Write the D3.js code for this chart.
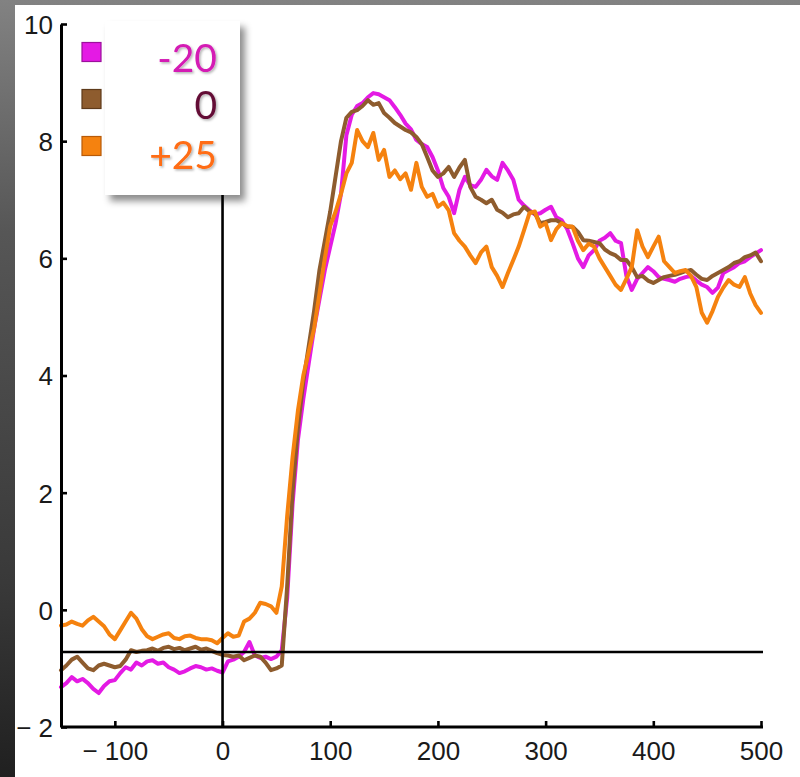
<!DOCTYPE html>
<html>
<head>
<meta charset="utf-8">
<script src="https://cdn.jsdelivr.net/npm/d3@7"></script>
<style>
  body { margin: 0; padding: 0; background: #000; }
  svg { display: block; }
</style>
</head>
<body>
<script>
// time grid (ms), one sample every 5
let times = d3.range(-150, 501, 5);

let minus20 = [
  -1.32, -1.25, -1.15, -1.22, -1.18, -1.25, -1.35, -1.42, -1.30, -1.22,
  -1.20, -1.08, -0.98, -1.02, -0.90, -0.95, -0.88, -0.86, -0.92, -0.90,
  -0.98, -1.02, -1.08, -1.05, -1.00, -0.96, -0.98, -1.02, -1.00, -1.04,
  -1.07, -0.88, -0.85, -0.80, -0.72, -0.55, -0.78, -0.82, -0.80, -0.84,
  -0.80, -0.69, 0.20, 1.80, 2.90, 3.60, 4.20, 4.80, 5.30, 5.80,
  6.20, 6.60, 7.10, 8.10, 8.45, 8.60, 8.65, 8.75, 8.82, 8.80,
  8.75, 8.70, 8.58, 8.45, 8.30, 8.20, 8.02, 7.95, 7.90, 7.73,
  7.50, 7.20, 7.05, 6.77, 7.17, 7.39, 7.25, 7.22, 7.34, 7.51,
  7.40, 7.34, 7.63, 7.50, 7.34, 7.00, 6.90, 6.82, 6.75, 6.77,
  6.83, 6.88, 6.70, 6.65, 6.50, 6.26, 6.00, 5.85, 6.05, 6.14,
  6.30, 6.35, 6.43, 6.30, 6.26, 5.70, 5.46, 5.65, 5.75, 5.85,
  5.78, 5.68, 5.65, 5.63, 5.60, 5.65, 5.68, 5.70, 5.62, 5.55,
  5.51, 5.41, 5.50, 5.75, 5.80, 5.85, 5.92, 5.95, 6.02, 6.08,
  6.14
];

let zero = [
  -1.03, -0.95, -0.85, -0.80, -0.90, -1.00, -1.03, -0.95, -0.92, -0.95,
  -0.98, -0.96, -0.85, -0.69, -0.72, -0.70, -0.69, -0.66, -0.70, -0.65,
  -0.63, -0.67, -0.65, -0.69, -0.66, -0.63, -0.68, -0.66, -0.70, -0.74,
  -0.77, -0.78, -0.80, -0.78, -0.86, -0.82, -0.78, -0.80, -0.90, -1.03,
  -1.00, -0.95, 0.40, 2.00, 3.10, 3.90, 4.50, 5.10, 5.80, 6.30,
  6.80, 7.40, 8.00, 8.40, 8.50, 8.53, 8.60, 8.70, 8.62, 8.65,
  8.48, 8.40, 8.31, 8.25, 8.19, 8.15, 8.07, 7.95, 7.73, 7.50,
  7.39, 7.45, 7.56, 7.39, 7.55, 7.68, 7.22, 7.05, 7.00, 6.94,
  7.00, 6.83, 6.78, 6.70, 6.75, 6.77, 6.88, 6.80, 6.77, 6.60,
  6.62, 6.65, 6.65, 6.60, 6.54, 6.54, 6.45, 6.31, 6.30, 6.28,
  6.26, 6.15, 6.09, 6.05, 5.97, 5.97, 5.85, 5.68, 5.70, 5.62,
  5.58, 5.63, 5.68, 5.70, 5.72, 5.75, 5.78, 5.80, 5.72, 5.65,
  5.63, 5.70, 5.75, 5.80, 5.85, 5.92, 5.95, 6.02, 6.05, 6.10,
  5.95
];

let plus25 = [
  -0.27, -0.25, -0.20, -0.24, -0.27, -0.18, -0.12, -0.20, -0.28, -0.42,
  -0.50, -0.35, -0.20, -0.05, -0.15, -0.33, -0.45, -0.50, -0.46, -0.42,
  -0.40, -0.48, -0.50, -0.45, -0.44, -0.48, -0.50, -0.50, -0.52, -0.57,
  -0.48, -0.40, -0.46, -0.44, -0.20, -0.15, -0.05, 0.12, 0.10, 0.06,
  -0.05, 0.40, 1.60, 2.60, 3.40, 4.00, 4.40, 4.80, 5.40, 6.00,
  6.55, 6.80, 7.10, 7.45, 7.63, 8.19, 8.00, 7.90, 8.14, 7.68,
  7.85, 7.39, 7.50, 7.35, 7.45, 7.17, 7.63, 7.22, 7.05, 7.10,
  6.88, 6.95, 6.82, 6.43, 6.30, 6.20, 6.05, 5.92, 6.10, 6.20,
  5.85, 5.70, 5.51, 5.75, 5.97, 6.20, 6.48, 6.77, 6.80, 6.54,
  6.60, 6.31, 6.50, 6.60, 6.55, 6.54, 6.30, 6.14, 6.25, 6.20,
  6.00, 5.85, 5.70, 5.55, 5.46, 5.65, 5.85, 6.48, 6.20, 6.02,
  6.20, 6.37, 5.95, 5.85, 5.75, 5.78, 5.80, 5.70, 5.51, 5.07,
  4.90, 5.10, 5.34, 5.50, 5.63, 5.55, 5.51, 5.68, 5.40, 5.20,
  5.07
];

let seriesNames = ["-20", "0", "+25"];
let seriesValues = [minus20, zero, plus25];
let xTicks = [-100, 0, 100, 200, 300, 400, 500];
let yTicks = [-2, 0, 2, 4, 6, 8, 10];
let baselineLevel = -0.72;

let lineColors = ["#e41ae4", "#8e5c2e", "#f5820f"];
let boxStrokes = ["#9c109c", "#5e3a1a", "#b85a08"];
let textColors = ["#d41ab4", "#640a36", "#ff6c12"];

let width = 800;
let height = 777;

let svg = d3.select("body").append("svg")
            .attr("width", width)
            .attr("height", height);

let defs = svg.append("defs");

let bg = defs.append("linearGradient").attr("id", "bg")
             .attr("x1", 0).attr("y1", 0).attr("x2", 0).attr("y2", 1);
bg.append("stop").attr("offset", "0%").attr("stop-color", "#828282");
bg.append("stop").attr("offset", "30%").attr("stop-color", "#565656");
bg.append("stop").attr("offset", "75%").attr("stop-color", "#393939");
bg.append("stop").attr("offset", "100%").attr("stop-color", "#202020");

let shadow = defs.append("filter").attr("id", "shadow")
                 .attr("x", "-20%").attr("y", "-20%")
                 .attr("width", "150%").attr("height", "150%");
shadow.append("feDropShadow").attr("dx", 5).attr("dy", 6)
      .attr("stdDeviation", 3.5)
      .attr("flood-color", "#000").attr("flood-opacity", 0.45);

let textShadow = defs.append("filter").attr("id", "tshadow");
textShadow.append("feDropShadow").attr("dx", 1.5).attr("dy", 1.5)
          .attr("stdDeviation", 1)
          .attr("flood-color", "#000").attr("flood-opacity", 0.3);

// dark frame and white page
svg.append("rect").attr("width", width).attr("height", height)
                  .attr("fill", "url(#bg)");
svg.append("rect").attr("x", 15).attr("y", 5)
                  .attr("width", width - 15).attr("height", height - 5)
                  .attr("fill", "#fff");

let x = d3.scaleLinear().domain([-150, 500]).range([61, 761]);
let y = d3.scaleLinear().domain([-2, 10]).range([727, 24]);

let fmt = d => d < 0 ? "\u2212 " + Math.abs(d) : String(d);

// the three traces
let line = d3.line()
             .x((d, i) => x(times[i]))
             .y(d => y(d));

svg.selectAll("path.trace")
   .data(seriesValues)
   .join("path")
   .attr("class", "trace")
   .attr("d", line)
   .attr("fill", "none")
   .attr("stroke", (d, i) => lineColors[i])
   .attr("stroke-width", 4)
   .attr("stroke-linejoin", "round")
   .attr("stroke-linecap", "round");

// reference lines
svg.append("line").attr("x1", x(-150)).attr("x2", x(500) + 2)
                  .attr("y1", y(baselineLevel)).attr("y2", y(baselineLevel))
                  .attr("stroke", "#000").attr("stroke-width", 2.6);
svg.append("line").attr("x1", x(0)).attr("x2", x(0))
                  .attr("y1", y(10)).attr("y2", y(-2))
                  .attr("stroke", "#000").attr("stroke-width", 2.6);

// axes
let yAxis = svg.append("g")
               .attr("transform", `translate(${x(-150)},0)`)
               .call(d3.axisLeft(y).tickValues(yTicks).tickFormat(fmt)
                       .tickSizeInner(-6).tickSizeOuter(0).tickPadding(8));

let xAxis = svg.append("g")
               .attr("transform", `translate(0,${y(-2)})`)
               .call(d3.axisBottom(x).tickValues(xTicks).tickFormat(fmt)
                       .tickSizeInner(-6).tickSizeOuter(0).tickPadding(15));

[xAxis, yAxis].forEach(g => {
  g.select(".domain").attr("stroke", "#000").attr("stroke-width", 3);
  g.selectAll(".tick line").attr("stroke", "#000").attr("stroke-width", 2.6);
  g.selectAll(".tick text")
   .attr("fill", "#1a1a1a")
   .style("font-family", "'Liberation Sans', Arial, sans-serif")
   .style("font-size", "26px");
});
yAxis.selectAll(".tick text").attr("dy", "0.36em");
xAxis.select(".domain").attr("d", `M${x(-150)},0H${x(500) + 2}`);

// legend
let legend = svg.append("g");

legend.append("rect").attr("x", 105).attr("y", 21)
                     .attr("width", 135).attr("height", 174)
                     .attr("fill", "#fff")
                     .attr("filter", "url(#shadow)");

let rowY = [52, 99, 146];

legend.selectAll("rect.key")
      .data(seriesNames)
      .join("rect")
      .attr("class", "key")
      .attr("x", 82)
      .attr("y", (d, i) => rowY[i] - 9.5)
      .attr("width", 19)
      .attr("height", 19)
      .attr("fill", (d, i) => lineColors[i])
      .attr("stroke", (d, i) => boxStrokes[i])
      .attr("stroke-width", 1.2);

legend.selectAll("text.key")
      .data(seriesNames)
      .join("text")
      .attr("class", "key")
      .attr("x", 217)
      .attr("y", (d, i) => rowY[i] + 20 + (i === 2 ? 3 : 0))
      .attr("text-anchor", "end")
      .attr("fill", (d, i) => textColors[i])
      .attr("filter", "url(#tshadow)")
      .style("font-family", "Lato, 'Open Sans', sans-serif")
      .style("font-size", "39px")
      .text(d => d);
</script>
</body>
</html>
